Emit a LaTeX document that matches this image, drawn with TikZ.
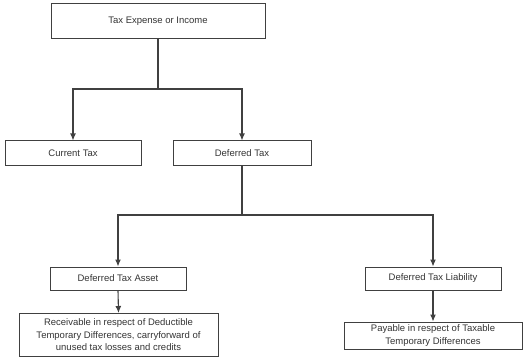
\documentclass[tikz,border=0pt]{standalone}
\usepackage{fontspec}
\setmainfont{Liberation Sans}
\usetikzlibrary{arrows.meta}
\begin{document}
\begin{tikzpicture}[x=1pt,y=-1pt,
  box/.style={draw=black!75, line width=1pt, rectangle, inner sep=0pt, align=center,
    font=\fontsize{9.5}{12.5}\selectfont, text=black!80},
  conn/.style={draw=black!75, line width=1.1pt},
  arr/.style={conn, -{Latex[length=7pt,width=6pt]}}]
\useasboundingbox (0,0) rectangle (529,358);
\node[box, minimum width=214pt, minimum height=35pt] (top) at (158,21.5) {Tax Expense or Income};
\node[box, minimum width=136pt, minimum height=24pt] (cur) at (73,153) {Current Tax};
\node[box, minimum width=138pt, minimum height=24pt] (def) at (242,153) {Deferred Tax};
\node[box, minimum width=136pt, minimum height=23pt] (dta) at (118,278.5) {Deferred Tax Asset};
\node[box, minimum width=136pt, minimum height=23pt] (dtl) at (433,278.5) {Deferred Tax Liability};
\node[box, minimum width=199pt, minimum height=43pt] (rec) at (118.5,335) {Receivable in respect of Deductible\\Temporary Differences, carryforward of\\unused tax losses and credits};
\node[box, minimum width=178pt, minimum height=27pt] (pay) at (433,335.5) {Payable in respect of Taxable\\Temporary Differences};
\coordinate (j1) at (158,89);
\coordinate (j2) at (242,215);
\draw[conn] (top.south) -- (j1);
\draw[arr] (j1) -| (cur.north);
\draw[arr] (j1) -| (def.north);
\draw[conn] (def.south) -- (j2);
\draw[arr] (j2) -| (dta.north);
\draw[arr] (j2) -| (dtl.north);
\draw[arr] (dta.south) -- (rec.north);
\draw[arr] (dtl.south) -- (pay.north);
\end{tikzpicture}
\end{document}
